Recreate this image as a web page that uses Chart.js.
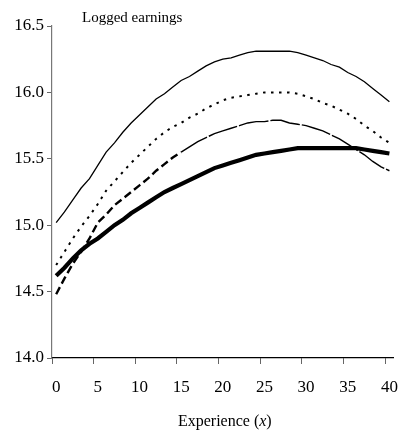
<!DOCTYPE html>
<html>
<head>
<meta charset="utf-8">
<script src="https://cdn.jsdelivr.net/npm/chart.js@4/dist/chart.umd.min.js"></script>
<style>
  body { margin: 0; background: #fff; }
</style>
</head>
<body>
<canvas id="myChart" width="411" height="439"></canvas>
<script>
// experience in years (categories)
var experience = [0,1,2,3,4,5,6,7,8,9,10,11,12,13,14,15,16,17,18,19,20,
                  21,22,23,24,25,26,27,28,29,30,31,32,33,34,35,36,37,38,39,40];

// thin solid line (top)
var upperLine = [15.02,15.10,15.19,15.28,15.35,15.45,15.55,15.62,15.70,15.77,15.83,
                 15.89,15.95,15.99,16.04,16.09,16.12,16.16,16.20,16.23,16.25,
                 16.26,16.28,16.30,16.31,16.31,16.31,16.31,16.31,16.30,16.28,
                 16.26,16.24,16.21,16.19,16.15,16.12,16.08,16.03,15.98,15.93];

// dotted line
var dottedLine = [14.70,14.80,14.90,14.99,15.07,15.16,15.26,15.33,15.40,15.47,15.53,
                  15.59,15.65,15.70,15.74,15.77,15.81,15.84,15.88,15.91,15.94,
                  15.96,15.97,15.98,15.99,16.00,16.00,16.00,16.00,15.99,15.97,
                  15.95,15.92,15.90,15.87,15.84,15.80,15.75,15.71,15.66,15.62];

// dashed line
var dashedLine = [14.48,14.60,14.71,14.80,14.90,15.02,15.08,15.15,15.20,15.25,15.30,
                  15.35,15.41,15.46,15.51,15.55,15.59,15.63,15.66,15.69,15.71,
                  15.73,15.75,15.77,15.78,15.78,15.79,15.79,15.77,15.76,15.75,
                  15.73,15.71,15.68,15.65,15.61,15.57,15.53,15.48,15.44,15.41];

// thick solid line
var thickLine = [14.62,14.68,14.75,14.81,14.86,14.90,14.95,15.00,15.04,15.09,15.13,
                 15.17,15.21,15.25,15.28,15.31,15.34,15.37,15.40,15.43,15.45,
                 15.47,15.49,15.51,15.53,15.54,15.55,15.56,15.57,15.58,15.58,
                 15.58,15.58,15.58,15.58,15.58,15.58,15.57,15.56,15.55,15.54];

var yTicks = [14.0, 14.5, 15.0, 15.5, 16.0, 16.5];

var serif = "'Liberation Serif', 'Times New Roman', serif";

// plot caption and x axis title (with italic x)
var extraText = {
    id: 'extraText',
    afterDraw: function(chart) {
        var c = chart.ctx;
        var area = chart.chartArea;
        c.save();
        c.fillStyle = '#000';
        c.textBaseline = 'middle';
        c.textAlign = 'left';
        c.font = "15px " + serif;
        c.fillText('Logged earnings', area.left + 30, 18);

        var parts = [['Experience (', '16px ' + serif], ['x', 'italic 16px ' + serif], [')', '16px ' + serif]];
        var total = 0;
        parts.forEach(function(p) { c.font = p[1]; total += c.measureText(p[0]).width; });
        var x = (area.left + area.right) / 2 - total / 2 + 2;
        parts.forEach(function(p) {
            c.font = p[1];
            c.fillText(p[0], x, 422);
            x += c.measureText(p[0]).width;
        });
        c.restore();
    }
};

var data = {
    labels: experience,
    datasets: [
        { data: upperLine, borderColor: '#000', borderWidth: 1.3 },
        { data: dottedLine, borderColor: '#000', borderWidth: 2, borderDash: [2.5, 5.5] },
        { data: dashedLine, borderColor: '#000', borderWidth: 2.2,
          segment: {
              borderDash: function(ctx) { return ctx.p0DataIndex < 15 ? [8, 4] : [30, 2]; },
              borderWidth: function(ctx) { return ctx.p0DataIndex < 15 ? 2.4 : 1.4; }
          } },
        { data: thickLine, borderColor: '#000', borderWidth: 4.2 }
    ]
};

var config = {
    type: 'line',
    data: data,
    options: {
        responsive: false,
        animation: false,
        layout: { padding: { left: 0, right: 8, top: 26, bottom: 0 } },
        elements: { point: { radius: 0 }, line: { tension: 0, fill: false } },
        plugins: { legend: { display: false }, tooltip: { enabled: false } },
        scales: {
            x: {
                type: 'category',
                offset: true,
                border: { color: '#000', width: 1.2 },
                grid: {
                    offset: true,
                    drawOnChartArea: false,
                    tickLength: 6,
                    color: function(ctx) { return ctx.index % 5 === 0 ? '#666' : 'rgba(0,0,0,0)'; }
                },
                ticks: {
                    autoSkip: false,
                    maxRotation: 0,
                    padding: 13,
                    color: '#000',
                    font: { family: serif, size: 17 },
                    callback: function(val, i) { return i % 5 === 0 ? experience[i] : ''; }
                },
                afterFit: function(scale) { scale.height = 81; }
            },
            y: {
                min: 14.0,
                max: 16.5,
                border: { color: '#777', width: 1.2 },
                grid: { drawOnChartArea: false, tickLength: 5, color: '#666' },
                afterBuildTicks: function(scale) {
                    scale.ticks = yTicks.map(function(v) { return { value: v }; });
                },
                ticks: {
                    padding: 3,
                    color: '#000',
                    font: { family: serif, size: 17 },
                    callback: function(v) { return v.toFixed(1); }
                },
                afterFit: function(scale) { scale.width = 52; }
            }
        }
    },
    plugins: [extraText]
};

var myChart = new Chart(document.getElementById('myChart'), config);
</script>
</body>
</html>
